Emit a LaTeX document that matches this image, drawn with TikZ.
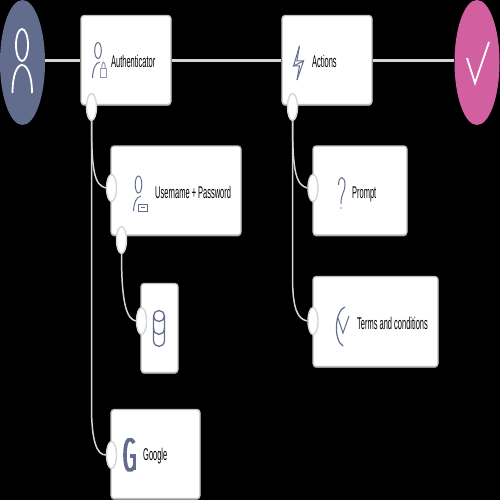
\documentclass[tikz,border=0pt]{standalone}
\usepackage{fontspec}
\setmainfont{Liberation Sans}
\usetikzlibrary{shapes.geometric,shadows}
\definecolor{slateblue}{HTML}{626C8C}
\definecolor{pinkend}{HTML}{D25F9F}
\definecolor{linegrey}{HTML}{D6D6D6}
\definecolor{edgegrey}{HTML}{BEBEBE}
\tikzset{
  cardbox/.style={rectangle,rounded corners=3pt,fill=white,draw=edgegrey,line width=1.2pt,inner sep=0pt,
    drop shadow={shadow xshift=0pt,shadow yshift=-1.4pt,fill=black!45,opacity=1}},
  endpoint/.style={ellipse,inner sep=0pt,minimum width=45pt,minimum height=125pt},
  port/.style={ellipse,inner sep=0pt,fill=white,draw=linegrey,line width=1.4pt,minimum width=10pt,minimum height=27pt},
  mainline/.style={draw=linegrey,line width=3pt},
  subline/.style={draw=linegrey,line width=1.5pt},
  icon/.style={draw=slateblue,line width=1pt},
  whiteicon/.style={draw=white,line width=1.8pt},
  lbl/.style={anchor=west,inner sep=0pt,text=black,font=\fontsize{17}{17}\selectfont}
}
\newcommand{\squeezed}[1]{\scalebox{.44}[1]{#1}}
\begin{document}
\begin{tikzpicture}[x=1pt,y=-1pt]
\useasboundingbox (0,0) rectangle (500,500);
\fill[black] (0,0) rectangle (500,500);
% nodes
\node[endpoint,fill=slateblue] (user) at (22.5,62.5) {};
\node[endpoint,fill=pinkend] (done) at (477,62.5) {};
\node[cardbox,minimum width=90pt,minimum height=89pt] (auth) at (126,60) {};
\node[cardbox,minimum width=90pt,minimum height=89pt] (actions) at (327,60) {};
\node[cardbox,minimum width=130pt,minimum height=89pt] (userpass) at (176,190.5) {};
\node[cardbox,minimum width=94pt,minimum height=89pt] (prompt) at (360,190.5) {};
\node[cardbox,minimum width=37pt,minimum height=89pt] (db) at (159.5,328) {};
\node[cardbox,minimum width=89pt,minimum height=89pt] (google) at (155.5,454) {};
\node[cardbox,minimum width=125pt,minimum height=90pt] (terms) at (375.5,321.5) {};
% connectors
\coordinate (rail) at (0,61);
\draw[mainline] (user.east |- rail) -- (auth.west |- rail);
\draw[mainline] (auth.east |- rail) -- (actions.west |- rail);
\draw[mainline] (actions.east |- rail) -- (done.west |- rail);
% ports
\node[port] (pauth) at (91.5,107) {};
\node[port] (pact) at (292.5,107) {};
\node[port] (pup) at (111.5,188) {};
\node[port] (pupb) at (121.5,240) {};
\node[port] (pprompt) at (313,188) {};
\node[port] (pdb) at (141.5,321) {};
\node[port] (pterms) at (313,321) {};
\node[port] (pgoogle) at (111.5,455) {};
\draw[subline] (pauth.south) .. controls +(0,52) and +(-11,-3) .. (pup.west);
\draw[subline] (pauth.south) -- +(0,285) .. controls +(0,35) and +(-9,0) .. (pgoogle.west);
\draw[subline] (pupb.south) .. controls +(0,50) and +(-9,-2) .. (pdb.west);
\draw[subline] (pact.south) .. controls +(0,52) and +(-11,-3) .. (pprompt.west);
\draw[subline] (pact.south) -- +(0,155) .. controls +(0,35) and +(-9,-2) .. (pterms.west);
% labels
\node[lbl] (lauth) at (111,61) {\squeezed{Authenticator}};
\node[lbl] (lact) at (312,61) {\squeezed{Actions}};
\node[lbl] (lup) at (155,192.5) {\squeezed{Username + Password}};
\node[lbl] (lprompt) at (352,194) {\squeezed{Prompt}};
\node[lbl] (lgoogle) at (143,456) {\squeezed{Google}};
\node[lbl] (lterms) at (357,323) {\squeezed{Terms and conditions}};
% user icon
\draw[whiteicon] (22,45) ellipse [x radius=6,y radius=16];
\draw[whiteicon] (12.5,93) .. controls (12.5,75) and (17,65) .. (22,65) .. controls (27,65) and (32,75) .. (32,93);
% check icon
\draw[whiteicon] (467,58) -- (475,83) -- (489,42);
% authenticator icon
\draw[icon] (98,50.5) ellipse [x radius=3.3,y radius=8];
\draw[icon] (92.5,78) .. controls (93,69) and (95,63) .. (100,62);
\draw[icon,draw=slateblue!70] (100.5,68.5) rectangle (106.5,77.5);
\draw[icon,draw=slateblue!70] (101.8,68.5) .. controls (101.8,60) and (105.2,60) .. (105.2,68.5);
% actions icon
\draw[icon] (299.5,46) -- (293.5,66) -- (303.5,61) -- (297,80);
\draw[icon] (299.5,46) -- (296.8,61) -- (303.5,61);
\draw[icon] (293.5,66) -- (299.5,66) -- (297,80);
% username icon
\draw[icon] (138.5,184.5) ellipse [x radius=3.3,y radius=8.5];
\draw[icon] (133.5,211) .. controls (134,203) and (136,197) .. (141,196);
\draw[icon,line width=.6pt] (138,204) rectangle (147.5,211);
\fill[slateblue] (140.5,206.7) rectangle (145,208.3);
% prompt icon
\draw[icon] (338.5,185) .. controls (338.5,175) and (345,175) .. (345,185) .. controls (345,192) and (341,193) .. (341,204);
\fill[slateblue] (341,208) ellipse [x radius=.6,y radius=1];
% db icon
\draw[icon,line width=1.3pt] (159,316) ellipse [x radius=5.5,y radius=5.5];
\draw[icon,line width=1.3pt] (153.5,316) -- (153.5,340) .. controls (153.5,348.5) and (164.5,348.5) .. (164.5,340) -- (164.5,316);
\draw[icon,line width=1.3pt] (153.5,328) .. controls (153.5,336.5) and (164.5,336.5) .. (164.5,328);
% terms icon
\draw[icon,line width=1.2pt] (345,307) .. controls (335,310) and (333,340) .. (343,346);
\draw[icon] (338,318) -- (343,333) -- (349,316);
% google icon
\draw[draw=slateblue,line width=3.6pt] (134,443) .. controls (131,437) and (125,437) .. (125,455) .. controls (125,473) and (131,473) .. (134.5,466);
\draw[draw=slateblue,line width=3.6pt] (134.5,470) -- (134.5,456) -- (129.5,456);
\end{tikzpicture}
\end{document}
